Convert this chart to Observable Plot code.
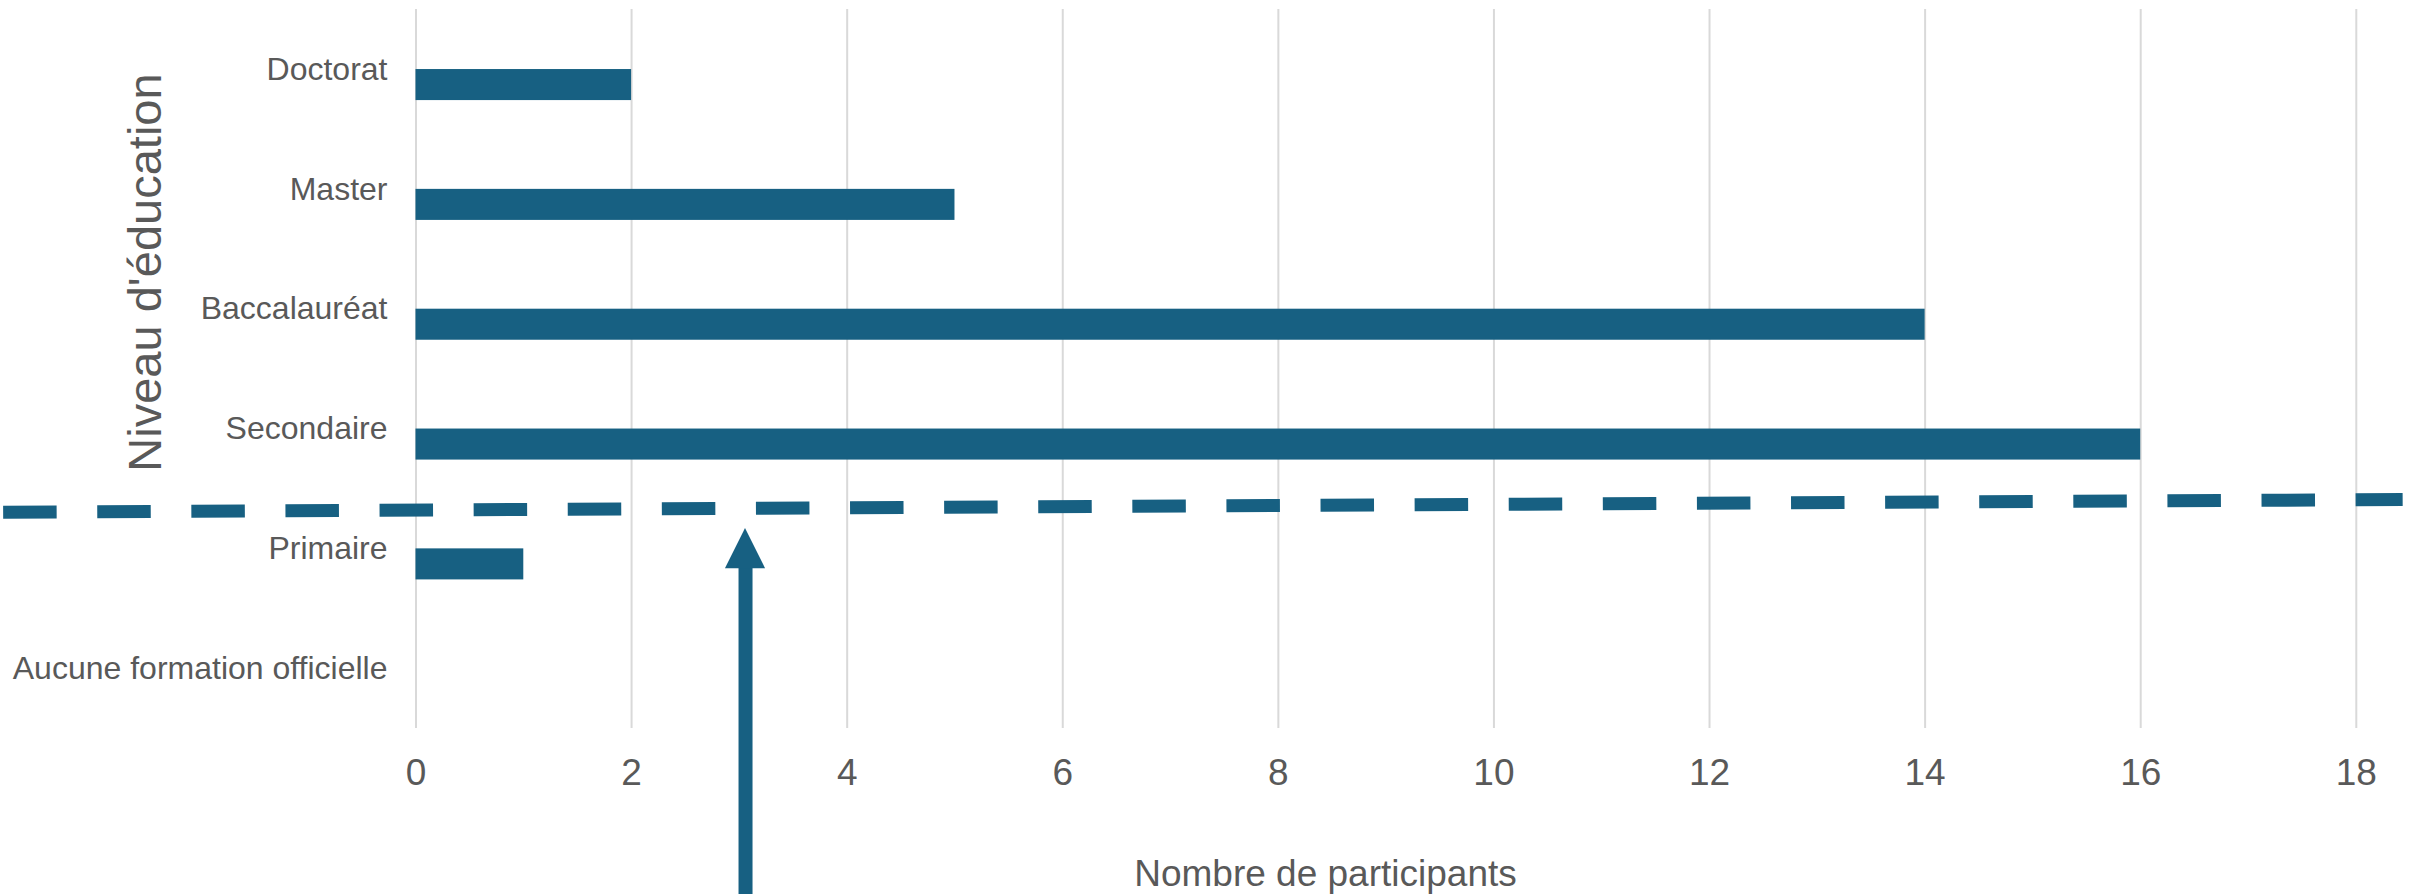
<!DOCTYPE html>
<html>
<head>
<meta charset="utf-8">
<script src="https://cdn.jsdelivr.net/npm/d3@7"></script>
<script src="https://cdn.jsdelivr.net/npm/@observablehq/plot@0.6"></script>
<style>
  html, body { margin: 0; padding: 0; background: #ffffff; overflow: hidden; }
  #chart svg { display: block; }
</style>
</head>
<body>
<div id="chart"></div>
<script>
// ---- data ----
const categories = ["Doctorat", "Master", "Baccalauréat", "Secondaire", "Primaire", "Aucune formation officielle"];
const participants = [2, 5, 14, 16, 1, 0];
const xTicks = [0, 2, 4, 6, 8, 10, 12, 14, 16, 18];
const xTitle = "Nombre de participants";
const yTitle = "Niveau d'éducation";

// annotation: dashed separator (x in participants, y in row units) and arrow
const separatorX = [-3.83, 18.43];
const separatorY = [4.195, 4.09];
const arrowX = 3.057;
const arrowTipY = 4.332;
const arrowBaseY = 4.666;
const arrowHalfWidth = 0.186;
const arrowEndY = 7.39;

// ---- build ----
const color = "#176082";
const rows = categories.map((c, i) => ({category: c, value: participants[i], index: i}));
const separator = separatorX.map((x, i) => ({x, y: separatorY[i]}));
const arrowHead = [
  {y: arrowBaseY, x1: arrowX - arrowHalfWidth, x2: arrowX + arrowHalfWidth},
  {y: arrowTipY, x1: arrowX, x2: arrowX}
];
const barTop = 0.501, barBottom = 0.760;

const chart = Plot.plot({
  width: 2412,
  height: 894,
  marginLeft: 415.5,
  marginRight: 56.2,
  marginTop: 9,
  marginBottom: 166,
  style: {fontFamily: "'Liberation Sans', Arial, sans-serif", color: "#595959", background: "#ffffff"},
  x: {domain: [0, 18]},
  y: {domain: [6, 0]},
  marks: [
    Plot.gridX(xTicks, {stroke: "#d9d9d9", strokeOpacity: 1, strokeWidth: 2}),
    Plot.rectX(rows, {x1: 0, x2: "value", y1: d => d.index + barTop, y2: d => d.index + barBottom, fill: color}),
    Plot.axisX({ticks: xTicks, tickSize: 0, tickPadding: 30, fontSize: 37, label: null}),
    Plot.axisY({ticks: categories.map((d, i) => i + 0.5), tickFormat: d => categories[Math.floor(d)], tickSize: 0, tickPadding: 28.5, fontSize: 32, label: null}),
    Plot.line(separator, {x: "x", y: "y", stroke: color, strokeWidth: 13, strokeDasharray: "53.5,40.6", strokeLinecap: "butt"}),
    Plot.ruleX([arrowX], {y1: arrowBaseY - 0.05, y2: arrowEndY, stroke: color, strokeWidth: 14}),
    Plot.areaX(arrowHead, {y: "y", x1: "x1", x2: "x2", fill: color}),
    Plot.text([xTitle], {frameAnchor: "bottom-left", dx: 909.5, dy: 157, textAnchor: "middle", lineAnchor: "bottom", fontSize: 37, fill: "#595959"}),
    Plot.text([yTitle], {frameAnchor: "top-left", dx: -255.5, dy: 263, rotate: -90, textAnchor: "middle", lineAnchor: "bottom", fontSize: 47, fill: "#595959"})
  ]
});
document.getElementById("chart").appendChild(chart);
</script>
</body>
</html>
